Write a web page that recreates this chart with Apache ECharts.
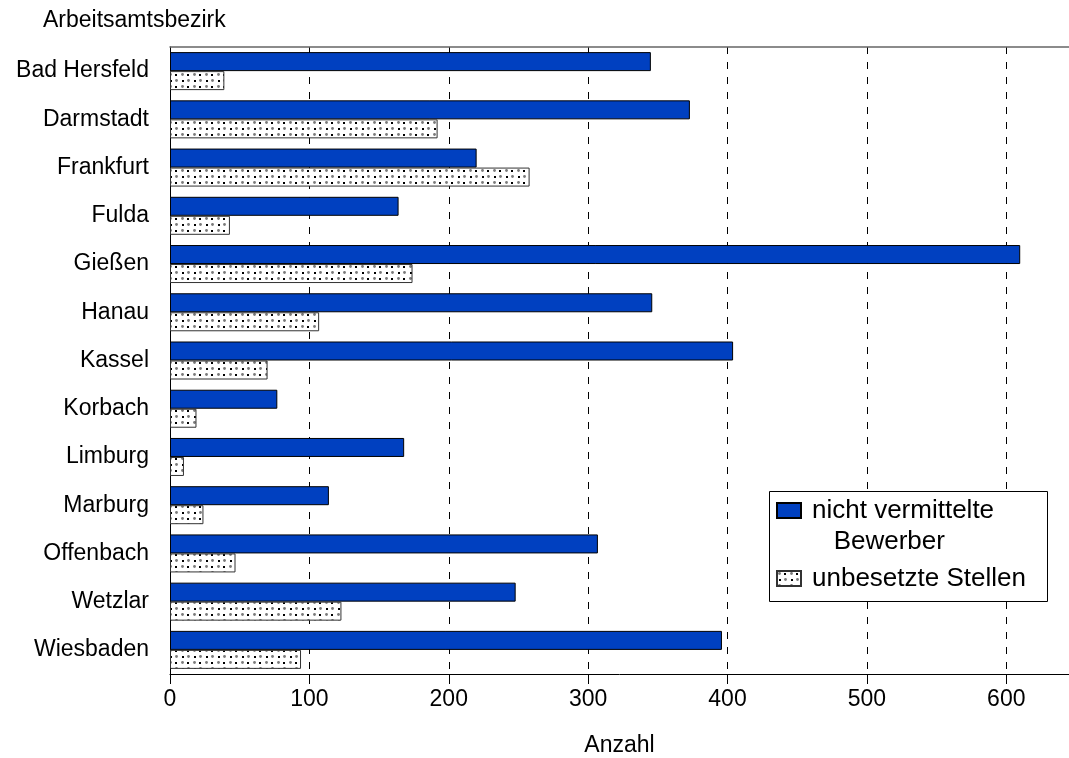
<!DOCTYPE html>
<html>
<head>
<meta charset="utf-8">
<script src="https://cdn.jsdelivr.net/npm/echarts@6/dist/echarts.min.js"></script>
<style>
  html, body { margin: 0; padding: 0; background: #fff; }
  #chart { width: 1069px; height: 758px; }
</style>
</head>
<body>
<div id="chart"></div>
<script>
// Arbeitsamtsbezirke in Hessen
const bezirke = ['Bad Hersfeld', 'Darmstadt', 'Frankfurt', 'Fulda', 'Gießen', 'Hanau', 'Kassel',
  'Korbach', 'Limburg', 'Marburg', 'Offenbach', 'Wetzlar', 'Wiesbaden'];
const bewerber = [345, 373, 220, 164, 610, 346, 404, 77, 168, 114, 307, 248, 396];
const stellen = [39, 192, 258, 43, 174, 107, 70, 19, 10, 24, 47, 123, 94];
const xTicks = [0, 100, 200, 300, 400, 500, 600];

const seriesNames = ['nicht vermittelte\n\u00a0\u00a0\u00a0Bewerber', 'unbesetzte Stellen'];

// dotted fill for the "unbesetzte Stellen" bars
function dotPattern() {
  const c = document.createElement('canvas');
  c.width = 12; c.height = 12;
  const g = c.getContext('2d');
  g.fillStyle = '#fff';
  g.fillRect(0, 0, 12, 12);
  g.fillStyle = '#7a7a7a';
  g.beginPath(); g.arc(2.5, 2.5, 1.4, 0, Math.PI * 2); g.fill();
  g.beginPath(); g.arc(8.5, 8.5, 1.4, 0, Math.PI * 2); g.fill();
  g.fillStyle = '#000';
  g.fillRect(7, 2, 2, 2);
  g.fillRect(2, 8, 2, 2);
  return c;
}

const FONT = '"Liberation Sans", Arial, sans-serif';
const chart = echarts.init(document.getElementById('chart'), null, { renderer: 'canvas' });

chart.setOption({
  animation: false,
  backgroundColor: '#fff',
  textStyle: { fontFamily: FONT, color: '#000' },
  title: {
    text: 'Arbeitsamtsbezirk',
    left: 43, top: 9, padding: 0,
    textStyle: { fontFamily: FONT, fontSize: 23, fontWeight: 'normal', color: '#000' }
  },
  grid: { left: 170, right: 0, top: 47, bottom: 84, containLabel: false, outerBoundsMode: 'none' },
  graphic: [{
    type: 'rect', z: 90,
    shape: { x: 769.5, y: 491.5, width: 278, height: 110 },
    style: { fill: '#fff', stroke: '#000', lineWidth: 1 }
  }],
  legend: {
    z: 100,
    orient: 'vertical',
    left: 776, top: 464, padding: 0,
    itemWidth: 24, itemHeight: 15, itemGap: 6,
    icon: 'rect',
    data: seriesNames,
    textStyle: { fontFamily: FONT, fontSize: 26, color: '#000', lineHeight: 31, padding: [0, 0, 0, 6] },
    formatter: function (name) { return name === seriesNames[0] ? '\n' + name : name; }
  },
  xAxis: [{
    type: 'value', min: 0, max: 645, interval: 100,
    name: 'Anzahl', nameLocation: 'middle', nameGap: 60,
    nameTextStyle: { fontFamily: FONT, fontSize: 23, color: '#000' },
    axisLine: { show: true, lineStyle: { color: '#000', width: 1 } },
    axisTick: { show: true, length: 10, lineStyle: { color: '#000' } },
    axisLabel: {
      fontFamily: FONT, fontSize: 23, color: '#000', margin: 14,
      showMaxLabel: false,
      formatter: v => (xTicks.indexOf(v) >= 0 ? String(v) : '')
    },
    splitLine: { show: true, lineStyle: { color: '#000', type: [7, 8], width: 1 } }
  }, {
    type: 'value', position: 'top', min: 0, max: 645,
    axisLine: { show: true, lineStyle: { color: '#666', width: 1.5 } },
    axisTick: { show: false }, axisLabel: { show: false }, splitLine: { show: false }
  }],
  yAxis: {
    type: 'category', data: bezirke, inverse: true,
    axisLine: { show: true, lineStyle: { color: '#000', width: 1 } },
    axisTick: { show: false },
    axisLabel: { fontFamily: FONT, fontSize: 23, color: '#000', margin: 21 }
  },
  series: [{
    name: seriesNames[0], type: 'bar', data: bewerber,
    barWidth: 19, barGap: '0%',
    itemStyle: { color: '#0040C0', borderColor: '#000', borderWidth: 1 }
  }, {
    name: seriesNames[1], type: 'bar', data: stellen,
    barWidth: 19, barGap: '0%',
    itemStyle: { color: { image: dotPattern(), repeat: 'repeat' }, borderColor: '#333', borderWidth: 1 }
  }]
});
</script>
</body>
</html>
